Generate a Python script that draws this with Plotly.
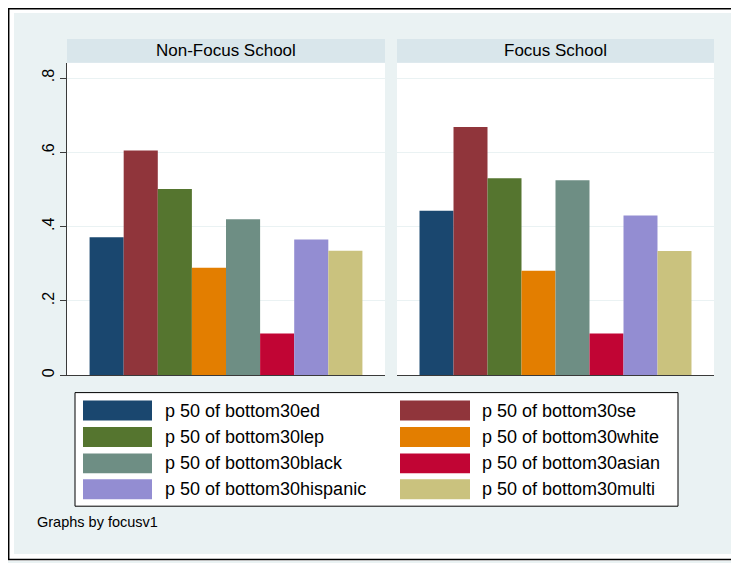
import plotly.graph_objects as go

# ---- data ----
panels = ["Non-Focus School", "Focus School"]
series = [
    "p 50 of bottom30ed", "p 50 of bottom30se",
    "p 50 of bottom30lep", "p 50 of bottom30white",
    "p 50 of bottom30black", "p 50 of bottom30asian",
    "p 50 of bottom30hispanic", "p 50 of bottom30multi",
]
nonfocus_vals = [0.371, 0.605, 0.501, 0.289, 0.420, 0.112, 0.365, 0.335]
focus_vals = [0.443, 0.668, 0.530, 0.281, 0.525, 0.112, 0.430, 0.334]
tick_vals = [0, 0.2, 0.4, 0.6, 0.8]
tick_text = ["0", ".2", ".4", ".6", ".8"]
note = "Graphs by focusv1"

colors = ["#1A476F", "#90353B", "#55752F", "#E37E00",
          "#6E8E84", "#C10534", "#938DD2", "#CAC27E"]

PAGE_W, PAGE_H = 739, 563
OFF = 8  # browser body margin
W, H = PAGE_W - OFF, PAGE_H - OFF
FONT = "Liberation Sans, Arial, Helvetica, sans-serif"
BG = "#EAF2F3"
STRIP = "#D9E6EB"
AX = "#3a3a3a"


def px(x):
    # page pixel -> paper fraction
    return (x - OFF) / W


def py(y):
    return 1 - (y - OFF) / H


fig = go.Figure()
for i, name in enumerate(series):
    fig.add_trace(go.Bar(x=[0], y=[nonfocus_vals[i]], name=name,
                         marker=dict(color=colors[i], line=dict(width=0)),
                         xaxis="x", yaxis="y", showlegend=False))
    fig.add_trace(go.Bar(x=[0], y=[focus_vals[i]], name=name,
                         marker=dict(color=colors[i], line=dict(width=0)),
                         xaxis="x2", yaxis="y2", showlegend=False))

ydom = [py(376.5), py(63)]
yr = [0, 0.841]
common_x = dict(range=[-0.5, 0.5], showticklabels=False, ticks="",
                showgrid=False, zeroline=False, showline=True,
                linecolor=AX, linewidth=1, fixedrange=True)
fig.update_layout(
    width=W, height=H,
    margin=dict(l=0, r=0, t=0, b=0),
    paper_bgcolor=BG, plot_bgcolor="white",
    barmode="group", bargap=0.142, bargroupgap=0,
    font=dict(family=FONT, color="black"),
    xaxis=dict(domain=[px(67), px(385)], anchor="y", **common_x),
    xaxis2=dict(domain=[px(397), px(714)], anchor="y2", **common_x),
    yaxis=dict(domain=ydom, range=yr, anchor="x",
               tickvals=tick_vals, ticktext=tick_text, tickangle=-90,
               ticks="outside", ticklen=6, tickcolor=AX,
               showline=True, linecolor=AX, linewidth=1,
               gridcolor=BG, gridwidth=1, zeroline=False,
               tickfont=dict(size=16, family=FONT, color="black")),
    yaxis2=dict(domain=ydom, range=yr, anchor="x2",
                tickvals=tick_vals, showticklabels=False, ticks="",
                showline=False, gridcolor=BG, gridwidth=1, zeroline=False),
    showlegend=False,
)

shapes = []
annotations = []
# white frame inside the outer border, around the light-blue area
for (x0, y0, x1, y1) in [(OFF, OFF, 14, PAGE_H), (OFF, OFF, PAGE_W, 13),
                         (OFF, 556, PAGE_W, PAGE_H)]:
    shapes.append(dict(type="rect", xref="paper", yref="paper",
                       x0=px(x0), x1=px(x1), y0=py(y1), y1=py(y0),
                       fillcolor="white", line=dict(width=0)))
shapes.append(dict(type="rect", xref="paper", yref="paper",
                   x0=px(OFF + 0.7), x1=px(PAGE_W + 10), y0=py(561.5), y1=py(OFF + 0.7),
                   fillcolor="rgba(0,0,0,0)", line=dict(color="black", width=1.5)))

# strip headers
for name, (x0, x1) in zip(panels, [(67, 385), (397, 714)]):
    shapes.append(dict(type="rect", xref="paper", yref="paper",
                       x0=px(x0), x1=px(x1), y0=py(63), y1=py(39),
                       fillcolor=STRIP, line=dict(width=0)))
    annotations.append(dict(text=name, xref="paper", yref="paper",
                            x=px((x0 + x1) / 2), y=py(51), showarrow=False,
                            xanchor="center", yanchor="middle",
                            font=dict(size=17, family=FONT, color="black")))

# legend box
shapes.append(dict(type="rect", xref="paper", yref="paper",
                   x0=px(75), x1=px(678), y0=py(508), y1=py(394),
                   fillcolor="white", line=dict(color="black", width=1)))
row_y = [412, 438.5, 465, 491]
col_sw = [(83, 152), (400, 470)]
col_tx = [163, 480]
for i, name in enumerate(series):
    r, c = i // 2, i % 2
    yc = row_y[r]
    shapes.append(dict(type="rect", xref="paper", yref="paper",
                       x0=px(col_sw[c][0]), x1=px(col_sw[c][1]),
                       y0=py(yc + 10), y1=py(yc - 10),
                       fillcolor=colors[i], line=dict(width=0)))
    annotations.append(dict(text=name, xref="paper", yref="paper",
                            x=px(col_tx[c]), y=py(yc), showarrow=False,
                            xanchor="left", yanchor="middle",
                            font=dict(size=18, family=FONT, color="black")))

annotations.append(dict(text=note, xref="paper", yref="paper",
                        x=px(35), y=py(524), showarrow=False,
                        xanchor="left", yanchor="middle",
                        font=dict(size=14.5, family=FONT, color="black")))

fig.update_layout(shapes=shapes, annotations=annotations)
fig.write_html("out.html")
